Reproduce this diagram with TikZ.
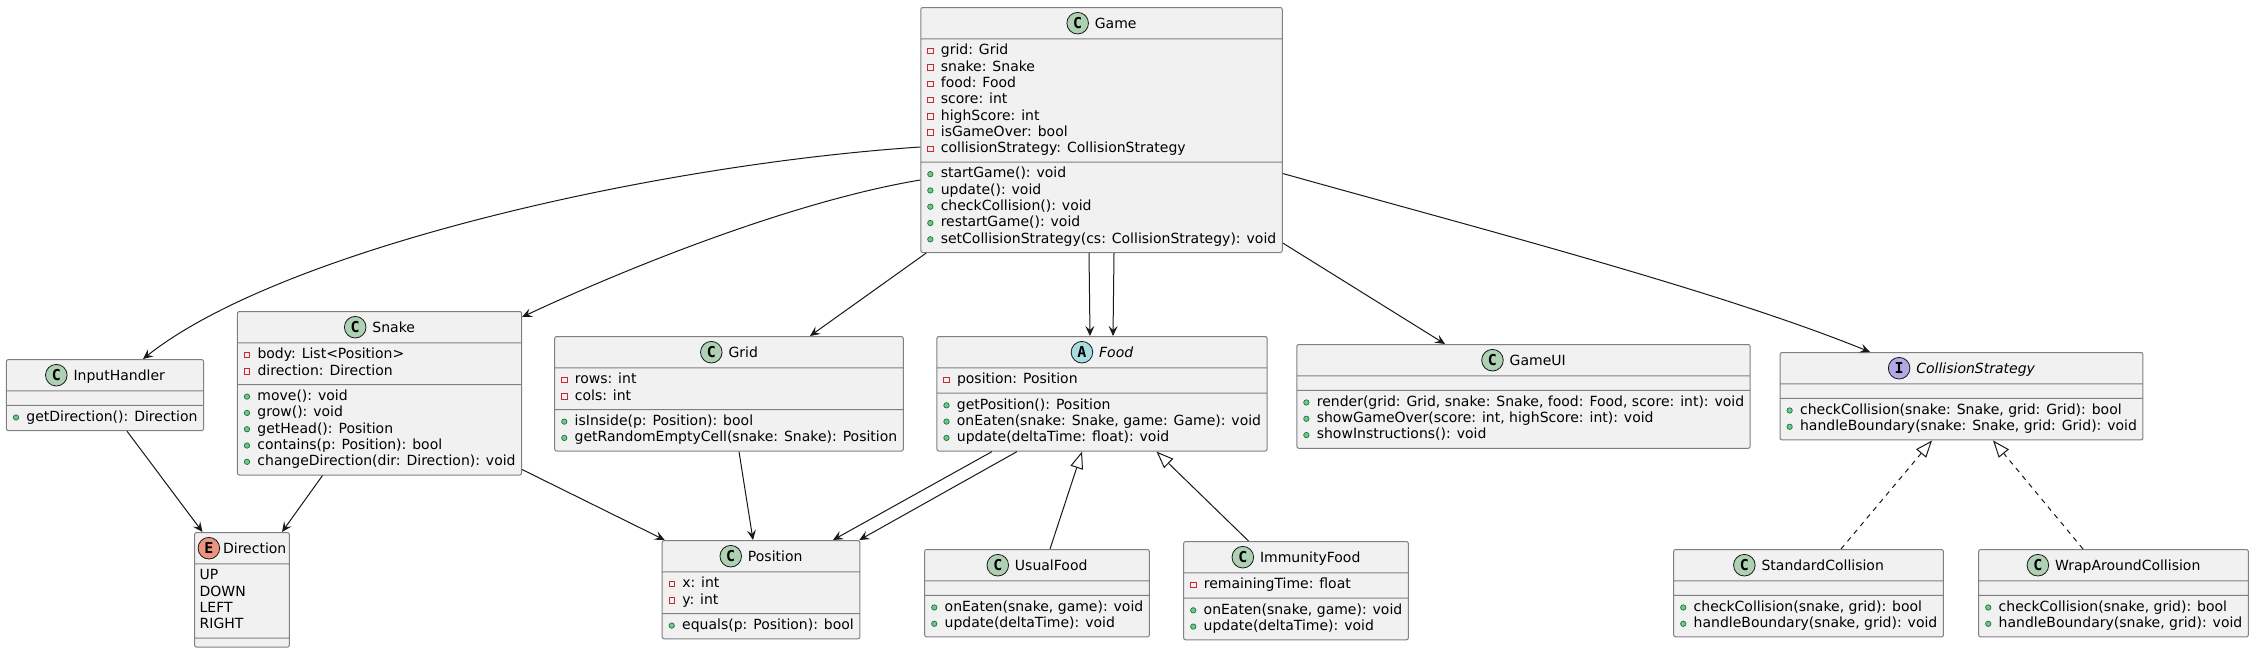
\documentclass[tikz,border=0pt]{standalone}
\usepackage{fontspec}
\setmainfont{DejaVu Sans}
\newfontfamily\icofam{DejaVu Sans Mono}
\usetikzlibrary{shapes.multipart, arrows.meta}
\definecolor{boxfill}{HTML}{F1F1F1}
\definecolor{boxline}{HTML}{808080}
\definecolor{arrowcol}{HTML}{181818}
\definecolor{cfill}{HTML}{ADD1B2}
\definecolor{afill}{HTML}{A9DCDF}
\definecolor{ifill}{HTML}{B4A7E5}
\definecolor{efill}{HTML}{EB937F}
\definecolor{privcol}{HTML}{C82930}
\definecolor{pubfill}{HTML}{84BE84}
\definecolor{publine}{HTML}{038048}

\begin{document}
\begin{tikzpicture}[x=1pt, y=-1pt, font=\fontsize{14}{16.3}\selectfont,
    umlclass/.style={rectangle split, rectangle split parts=3,
      rectangle split part align={center,left,left},
      rectangle split empty part height=0pt, rectangle split empty part depth=0pt,
      rectangle split empty part width=0pt,
      draw=boxline, line width=1pt, fill=boxfill, rounded corners=2pt,
      align=left, inner xsep=6pt, inner ysep=4pt, anchor=north},
    assoc/.style={draw=arrowcol, line width=1pt, -{Stealth[length=10pt, width=9pt, inset=4pt]}},
    extends/.style={draw=arrowcol, line width=1pt, -{Triangle[length=17pt, width=13pt, fill=white]}},
    realizes/.style={extends, dash pattern=on 5pt off 5pt}]
    \def\pub{\strut\hspace{0.5pt}\tikz[baseline=-3.8pt]\filldraw[fill=pubfill, draw=publine, line width=0.7pt] (0,0) circle (2.7pt);\hspace{7.4pt}}
    \def\priv{\strut\hspace{0.5pt}\tikz[baseline=-3.8pt]\draw[privcol, line width=0.8pt, sharp corners] (-2.7pt,-2.7pt) rectangle (2.7pt,2.7pt);\hspace{7.4pt}}
    \def\ico#1#2{\tikz[baseline=-5.1pt]{\filldraw[fill=#2, draw=arrowcol, line width=0.8pt] (0,0) circle (10.8pt); \pgftext{\icofam\bfseries\fontsize{15}{15}\selectfont #1};}}

    \fill[white] (0,0) rectangle (2254,651);
    \useasboundingbox (0,0) rectangle (2254,651);

    % classes
    \node[umlclass] (game) at (1101.5,7) {\ico{C}{cfill}\hspace{6pt}Game
      \nodepart{two}\priv grid: Grid\\\priv snake: Snake\\\priv food: Food\\\priv score: int\\\priv highScore: int\\\priv isGameOver: bool\\\priv collisionStrategy: CollisionStrategy
      \nodepart{three}\pub startGame(): void\\\pub update(): void\\\pub checkCollision(): void\\\pub restartGame(): void\\\pub setCollisionStrategy(cs: CollisionStrategy): void};
    \node[umlclass] (input) at (105,359) {\ico{C}{cfill}\hspace{6pt}InputHandler
      \nodepart{two}\nodepart{three}\pub getDirection(): Direction};
    \node[umlclass] (snake) at (379.5,311) {\ico{C}{cfill}\hspace{6pt}Snake
      \nodepart{two}\priv body: List<Position>\\\priv direction: Direction
      \nodepart{three}\pub move(): void\\\pub grow(): void\\\pub getHead(): Position\\\pub contains(p: Position): bool\\\pub changeDirection(dir: Direction): void};
    \node[umlclass, inner xsep=3pt] (direction) at (242,532) {\ico{E}{efill}\hspace{3pt}Direction
      \nodepart{two}\strut\hspace{2pt}UP\\\hspace{2pt}DOWN\\\hspace{2pt}LEFT\\\hspace{2pt}RIGHT\strut
      \nodepart{three}\rule{1pt}{0pt}};
    \node[umlclass] (grid) at (729,336) {\ico{C}{cfill}\hspace{6pt}Grid
      \nodepart{two}\priv rows: int\\\priv cols: int
      \nodepart{three}\pub isInside(p: Position): bool\\\pub getRandomEmptyCell(snake: Snake): Position};
    \node[umlclass] (position) at (761,540) {\ico{C}{cfill}\hspace{6pt}Position
      \nodepart{two}\priv x: int\\\priv y: int
      \nodepart{three}\pub equals(p: Position): bool};
    \node[umlclass] (food) at (1102,336) {\ico{A}{afill}\hspace{6pt}\textit{Food}
      \nodepart{two}\priv position: Position
      \nodepart{three}\pub getPosition(): Position\\\pub onEaten(snake: Snake, game: Game): void\\\pub update(deltaTime: float): void};
    \node[umlclass] (gameui) at (1523.5,344) {\ico{C}{cfill}\hspace{6pt}GameUI
      \nodepart{two}\nodepart{three}\pub render(grid: Grid, snake: Snake, food: Food, score: int): void\\\pub showGameOver(score: int, highScore: int): void\\\pub showInstructions(): void};
    \node[umlclass] (collision) at (1961.5,352) {\ico{I}{ifill}\hspace{6pt}\textit{CollisionStrategy}
      \nodepart{two}\nodepart{three}\pub checkCollision(snake: Snake, grid: Grid): bool\\\pub handleBoundary(snake: Snake, grid: Grid): void};
    \node[umlclass] (usualfood) at (1037,549) {\ico{C}{cfill}\hspace{6pt}UsualFood
      \nodepart{two}\nodepart{three}\pub onEaten(snake, game): void\\\pub update(deltaTime): void};
    \node[umlclass] (immunity) at (1296,541) {\ico{C}{cfill}\hspace{6pt}ImmunityFood
      \nodepart{two}\priv remainingTime: float
      \nodepart{three}\pub onEaten(snake, game): void\\\pub update(deltaTime): void};
    \node[umlclass] (standard) at (1808.5,549) {\ico{C}{cfill}\hspace{6pt}StandardCollision
      \nodepart{two}\nodepart{three}\pub checkCollision(snake, grid): bool\\\pub handleBoundary(snake, grid): void};
    \node[umlclass] (wraparound) at (2113.5,549) {\ico{C}{cfill}\hspace{6pt}WrapAroundCollision
      \nodepart{two}\nodepart{three}\pub checkCollision(snake, grid): bool\\\pub handleBoundary(snake, grid): void};

    % associations
    \draw[assoc] ([yshift=-17pt]game.west) .. controls (650,165) and (280,250) .. ([xshift=38pt]input.north);
    \draw[assoc] ([yshift=-50pt]game.west) .. controls (800,200) and (640,262) .. ([yshift=-6pt]snake.north east);
    \draw[assoc] ([xshift=6pt]game.south west) -- ([xshift=81pt]grid.north);
    \draw[assoc] ([xshift=-12.5pt]game.south) -- ([xshift=-12pt]food.north);
    \draw[assoc] ([xshift=12.5pt]game.south) -- ([xshift=11pt]food.north);
    \draw[assoc] ([yshift=10pt]game.south east) -- ([xshift=-78.5pt]gameui.north);
    \draw[assoc] ([yshift=-43.5pt]game.east) .. controls (1481,229) and (1720,291) .. ([xshift=-91.5pt]collision.north);
    \draw[assoc] ([xshift=22pt]input.south) -- ([xshift=-39.5pt]direction.north);
    \draw[assoc] ([xshift=-57pt]snake.south) -- ([xshift=40pt]direction.north);
    \draw[assoc] ([yshift=6pt]snake.south east) -- ([xshift=3pt]position.north west);
    \draw[assoc] ([xshift=10pt]grid.south) -- ([xshift=-8pt]position.north);
    \draw[assoc] ([xshift=-110pt]food.south) -- ([xshift=72pt]position.north);
    \draw[assoc] ([xshift=-85pt]food.south) -- ([xshift=-1pt]position.north east);

    % inheritance
    \draw[extends] ([xshift=13pt]usualfood.north) -- ([xshift=-20pt]food.south);
    \draw[extends] ([xshift=-47.5pt]immunity.north) -- ([xshift=54.5pt]food.south);
    \draw[realizes] ([xshift=32.5pt]standard.north) -- ([xshift=-29.5pt]collision.south);
    \draw[realizes] ([xshift=-30.5pt]wraparound.north) -- ([xshift=31.5pt]collision.south);
\end{tikzpicture}
\end{document}
